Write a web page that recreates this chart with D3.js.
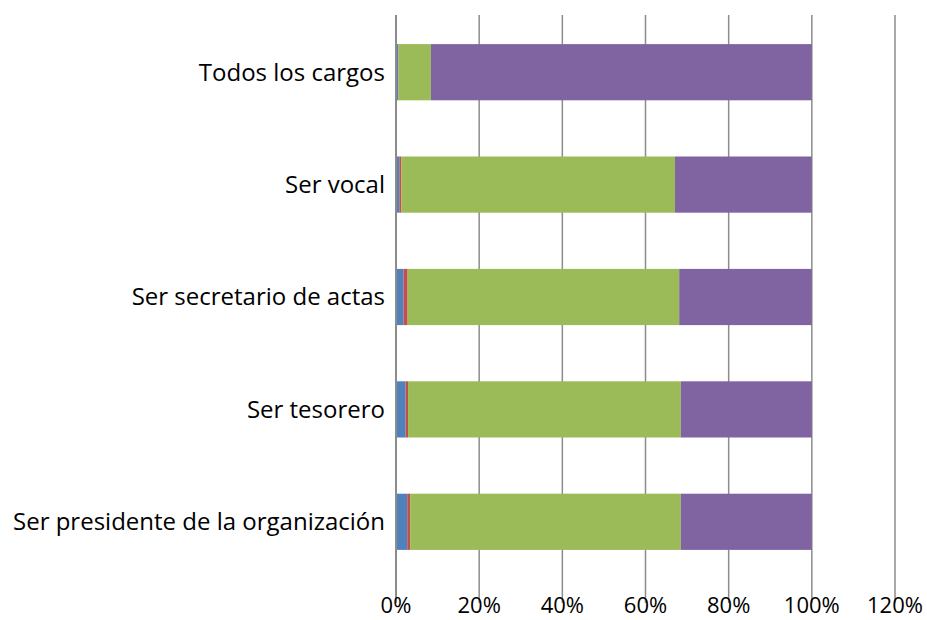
<!DOCTYPE html>
<html lang="es">
<head>
  <meta charset="utf-8">
  <title>Cargos</title>
  <script src="https://cdn.jsdelivr.net/npm/d3@7"></script>
  <style>
    body { margin: 0; background: #fff; overflow: hidden; }
    svg { display: block; }
    text { font-family: "Open Sans", sans-serif; fill: #000; }
  </style>
</head>
<body>
  <div id="chart"></div>
  <script>
    var categories = ["Todos los cargos", "Ser vocal", "Ser secretario de actas", "Ser tesorero", "Ser presidente de la organización"];
    var seriesNames = ["s1", "s2", "s3", "s4"];
    var s1 = [0.5, 0.8, 1.8, 2.3, 2.7];
    var s2 = [0.1, 0.5, 1.0, 0.6, 0.7];
    var s3 = [7.8, 65.8, 65.3, 65.6, 65.1];
    var s4 = [91.6, 32.9, 31.9, 31.5, 31.5];
    var ticks = [0, 20, 40, 60, 80, 100, 120];
    var colors = ["#4f81bd", "#c0504d", "#9bbb59", "#8064a2"];

    var w = 927, h = 620;
    // note: "top" is taken by window.top, so plotTop/plotBottom
    var plotLeft = 396, plotRight = 895, plotTop = 15, plotBottom = 603;

    var svg = d3.select("#chart").append("svg")
      .attr("width", w).attr("height", h);

    var x = d3.scaleLinear().domain([0, 120]).range([plotLeft, plotRight]);
    var y = d3.scaleBand().domain(categories).range([16, 578])
      .paddingInner(0.5).paddingOuter(0.25);

    var rows = categories.map(function(c, i) {
      return { cat: c, s1: s1[i], s2: s2[i], s3: s3[i], s4: s4[i] };
    });
    var stack = d3.stack().keys(seriesNames)(rows);

    // gridlines
    svg.append("g").selectAll("line")
      .data(ticks.slice(1))
      .enter().append("line")
      .attr("x1", function(d) { return x(d); })
      .attr("x2", function(d) { return x(d); })
      .attr("y1", plotTop).attr("y2", plotBottom)
      .attr("stroke", "#8c8c8c")
      .attr("stroke-width", 1.5);

    // bars
    svg.append("g").selectAll("g")
      .data(stack)
      .enter().append("g")
      .attr("fill", function(d, i) { return colors[i]; })
      .selectAll("rect")
      .data(function(d) { return d; })
      .enter().append("rect")
      .attr("x", function(d) { return x(d[0]); })
      .attr("width", function(d) { return x(d[1]) - x(d[0]); })
      .attr("y", function(d) { return y(d.data.cat); })
      .attr("height", y.bandwidth());

    // axis line
    svg.append("line")
      .attr("x1", x(0)).attr("x2", x(0))
      .attr("y1", plotTop).attr("y2", plotBottom)
      .attr("stroke", "#8c8c8c")
      .attr("stroke-width", 2);

    // category labels
    svg.append("g").selectAll("text")
      .data(categories)
      .enter().append("text")
      .attr("x", plotLeft - 11)
      .attr("y", function(d) { return y(d) + y.bandwidth() / 2; })
      .attr("dy", "0.35em")
      .attr("text-anchor", "end")
      .attr("font-size", "24px")
      .text(function(d) { return d; });

    // tick labels
    svg.append("g").selectAll("text")
      .data(ticks)
      .enter().append("text")
      .attr("x", function(d) { return x(d); })
      .attr("y", 613)
      .attr("text-anchor", "middle")
      .attr("font-size", "22px")
      .text(function(d) { return d + "%"; });
  </script>
</body>
</html>
